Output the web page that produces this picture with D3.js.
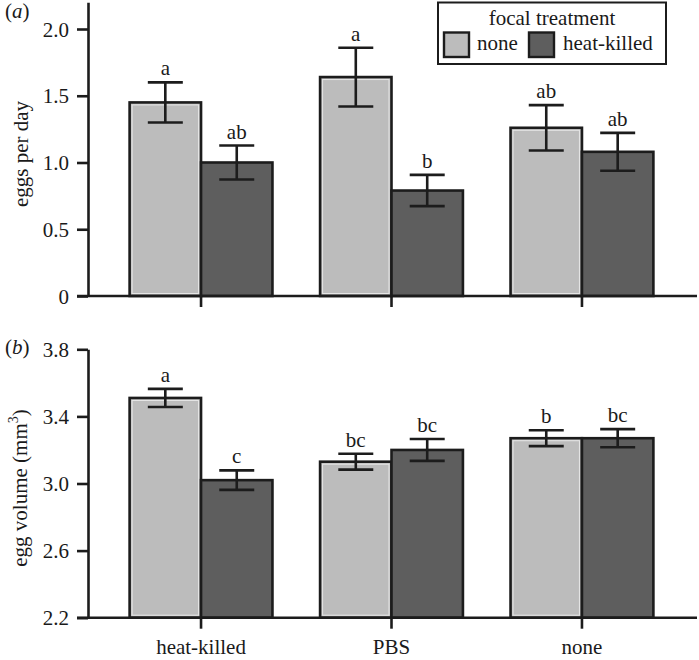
<!DOCTYPE html>
<html><head><meta charset="utf-8">
<script src="https://cdn.jsdelivr.net/npm/d3@7/dist/d3.min.js"></script>
<style>body{margin:0;background:#fff}svg{display:block}text{font-family:"Liberation Serif","Times New Roman",serif;fill:#1a1a1a}</style>
</head><body><svg id="c" width="699" height="660"></svg>
<script>
const categories = ["heat-killed", "PBS", "none"];
const seriesNames = ["none", "heat-killed"];
// panel (a): eggs per day
const eggsNone = [1.45, 1.64, 1.26];
const eggsNoneErr = [0.15, 0.22, 0.17];
const eggsHK = [1.00, 0.79, 1.08];
const eggsHKErr = [0.127, 0.117, 0.142];
const eggsLetters = [["a", "ab"], ["a", "b"], ["ab", "ab"]];
const eggsTicks = [0, 0.5, 1.0, 1.5, 2.0];
// panel (b): egg volume
const volNone = [3.51, 3.13, 3.27];
const volNoneErr = [0.054, 0.047, 0.047];
const volHK = [3.02, 3.20, 3.27];
const volHKErr = [0.058, 0.065, 0.054];
const volLetters = [["a", "c"], ["bc", "bc"], ["b", "bc"]];
const volTicks = [2.2, 2.6, 3.0, 3.4, 3.8];

const colors = {"none": "#bcbcbc", "heat-killed": "#5e5e5e"};
const ink = "#1c1c1c";
const svg = d3.select("#c");

const x = d3.scaleBand().domain(categories).range([105.8, 677.2]).paddingInner(0.25).paddingOuter(0.125);
const xs = d3.scaleBand().domain(seriesNames).range([0, x.bandwidth()]);

function panel(cfg) {
  const y = d3.scaleLinear().domain(cfg.domain).range([cfg.bottom, cfg.top]);
  const g = svg.append("g");
  // bars
  categories.forEach((c, i) => {
    const vals = [[cfg.none[i], cfg.noneErr[i]], [cfg.hk[i], cfg.hkErr[i]]];
    seriesNames.forEach((s, j) => {
      const [v, e] = vals[j];
      const bx = x(c) + xs(s), bw = xs.bandwidth();
      g.append("rect").attr("x", bx).attr("y", y(v)).attr("width", bw).attr("height", y(cfg.domain[0]) - y(v))
        .attr("fill", colors[s]).attr("stroke", ink).attr("stroke-width", 2.6);
      if (s === "none") {
        g.append("rect").attr("x", bx + 2.5).attr("y", y(v) + 2.5).attr("width", bw - 5).attr("height", y(cfg.domain[0]) - y(v) - 5)
          .attr("fill", "none").attr("stroke", "#e6e6e6").attr("stroke-width", 1);
      }
      const cx = bx + bw / 2, hw = 17.5;
      g.append("line").attr("x1", cx).attr("x2", cx).attr("y1", y(v + e)).attr("y2", y(v - e)).attr("stroke", ink).attr("stroke-width", 2.6);
      g.append("line").attr("x1", cx - hw).attr("x2", cx + hw).attr("y1", y(v + e)).attr("y2", y(v + e)).attr("stroke", ink).attr("stroke-width", 2.6);
      g.append("line").attr("x1", cx - hw).attr("x2", cx + hw).attr("y1", y(v - e)).attr("y2", y(v - e)).attr("stroke", ink).attr("stroke-width", 2.6);
      g.append("text").attr("x", cx).attr("y", y(v + e) - 7).attr("text-anchor", "middle").attr("font-size", 21).text(cfg.letters[i][j]);
    });
  });
  // y axis
  const ax = g.append("g").attr("transform", `translate(88,0)`)
    .call(d3.axisLeft(y).tickValues(cfg.ticks).tickSize(11).tickSizeOuter(0).tickPadding(8)
      .tickFormat(d => d === 0 ? "0" : d3.format(".1f")(d)));
  ax.selectAll("path,line").attr("stroke", ink).attr("stroke-width", 2.6);
  ax.selectAll("text").attr("font-size", 21).attr("font-family", "Liberation Serif, serif").attr("fill", ink).attr("dy", "0.34em");
  // x axis line
  g.append("line").attr("x1", 77).attr("x2", 697).attr("y1", cfg.bottom).attr("y2", cfg.bottom).attr("stroke", ink).attr("stroke-width", 2.6);
  categories.forEach(c => {
    const cx = x(c) + x.bandwidth() / 2;
    g.append("line").attr("x1", cx).attr("x2", cx).attr("y1", cfg.bottom).attr("y2", cfg.bottom + 11).attr("stroke", ink).attr("stroke-width", 2.6);
    if (cfg.showX) g.append("text").attr("x", cx).attr("y", cfg.bottom + 36).attr("text-anchor", "middle").attr("font-size", 21).text(c);
  });
  // title
  const t = g.append("text").attr("transform", `translate(${cfg.titleX},${cfg.titleY}) rotate(-90)`).attr("text-anchor", "middle").attr("font-size", 21);
  cfg.title(t);
  g.append("text").attr("x", 5).attr("y", cfg.labelY).attr("font-size", 21).html(`(<tspan font-style="italic">${cfg.label}</tspan>)`);
  return y;
}

panel({domain: [0, 2.2], top: 2.3, bottom: 296, none: eggsNone, noneErr: eggsNoneErr, hk: eggsHK, hkErr: eggsHKErr,
  letters: eggsLetters, ticks: eggsTicks, showX: false, titleX: 28, titleY: 154, labelY: 18, label: "a",
  title: t => t.text("eggs per day")});
panel({domain: [2.2, 3.8], top: 349.3, bottom: 617.7, none: volNone, noneErr: volNoneErr, hk: volHK, hkErr: volHKErr,
  letters: volLetters, ticks: volTicks, showX: true, titleX: 27, titleY: 488, labelY: 354, label: "b",
  title: t => { t.append("tspan").text("egg volume (mm"); t.append("tspan").attr("font-size", 14).attr("dy", -9).text("3"); t.append("tspan").attr("dy", 9).text(")"); }});

// legend
const lg = svg.append("g");
lg.append("rect").attr("x", 438).attr("y", 2.5).attr("width", 228).attr("height", 61.5).attr("fill", "#fff").attr("stroke", ink).attr("stroke-width", 2);
lg.append("text").attr("x", 552).attr("y", 25).attr("text-anchor", "middle").attr("font-size", 21).text("focal treatment");
const lx = [444, 529], tx = [477, 563];
seriesNames.forEach((s, i) => {
  lg.append("rect").attr("x", lx[i]).attr("y", 32.5).attr("width", 25).attr("height", 24.5).attr("fill", colors[s]).attr("stroke", ink).attr("stroke-width", 2.4);
  lg.append("text").attr("x", tx[i]).attr("y", 50).attr("font-size", 21).text(s);
});
</script></body></html>
